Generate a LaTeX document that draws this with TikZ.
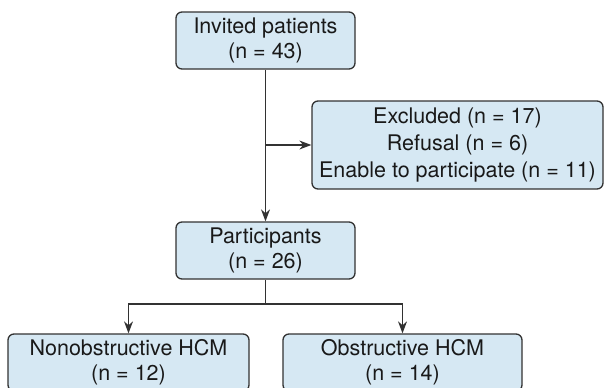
\documentclass[tikz,border=0pt]{standalone}
\usepackage{fontspec}
\setmainfont{TeX Gyre Heros}
\usepackage{xcolor}
\usepackage{tikz}
\usetikzlibrary{arrows.meta}

\definecolor{boxfill}{RGB}{214,232,243}
\definecolor{boxline}{RGB}{50,50,50}

\begin{document}
\begin{tikzpicture}[
			x=1pt, y=-1pt,
			% Define the style for the boxes and the arrows
			flowbox/.style={draw=boxline, fill=boxfill, line width=1.3pt, rounded corners=6pt,
				align=center, inner sep=0pt, minimum height=57pt,
				font=\fontsize{21.5}{25}\selectfont, text=black!90},
			flowarrow/.style={draw=boxline, line width=1.3pt, -{Stealth[length=12pt,width=9pt]}},
			flowline/.style={draw=boxline, line width=1.3pt}
			]
			
			\useasboundingbox (0,0) rectangle (605,388);
			
			\node (invited) at (265.5, 40.5) [flowbox, minimum width=179pt] {Invited patients\\(n = 43)};
			\node (excl) at (457.5, 145) [flowbox, minimum width=291pt, minimum height=88pt,
				font=\fontsize{21.5}{27}\selectfont] {Excluded (n = 17)\\Refusal (n = 6)\\Enable to participate (n = 11)};
			\node (parts) at (265.5, 250.5) [flowbox, minimum width=179pt] {Participants\\(n = 26)};
			\node (nonobs) at (128.5, 362.5) [flowbox, minimum width=241pt] {Nonobstructive HCM\\(n = 12)};
			\node (obs) at (402.5, 362.5) [flowbox, minimum width=239pt] {Obstructive HCM\\(n = 14)};
			
			\coordinate (side) at (invited.south |- excl.west);
			\coordinate (split) at (265.5, 304);
			
			\draw[flowarrow] (invited) -- (parts);
			\draw[flowarrow] (side) -- (excl);
			
			\draw[flowline] (parts) -- (split);
			\draw[flowarrow] (split) -| (nonobs);
			\draw[flowarrow] (split) -| (obs);
			
		\end{tikzpicture}
\end{document}
